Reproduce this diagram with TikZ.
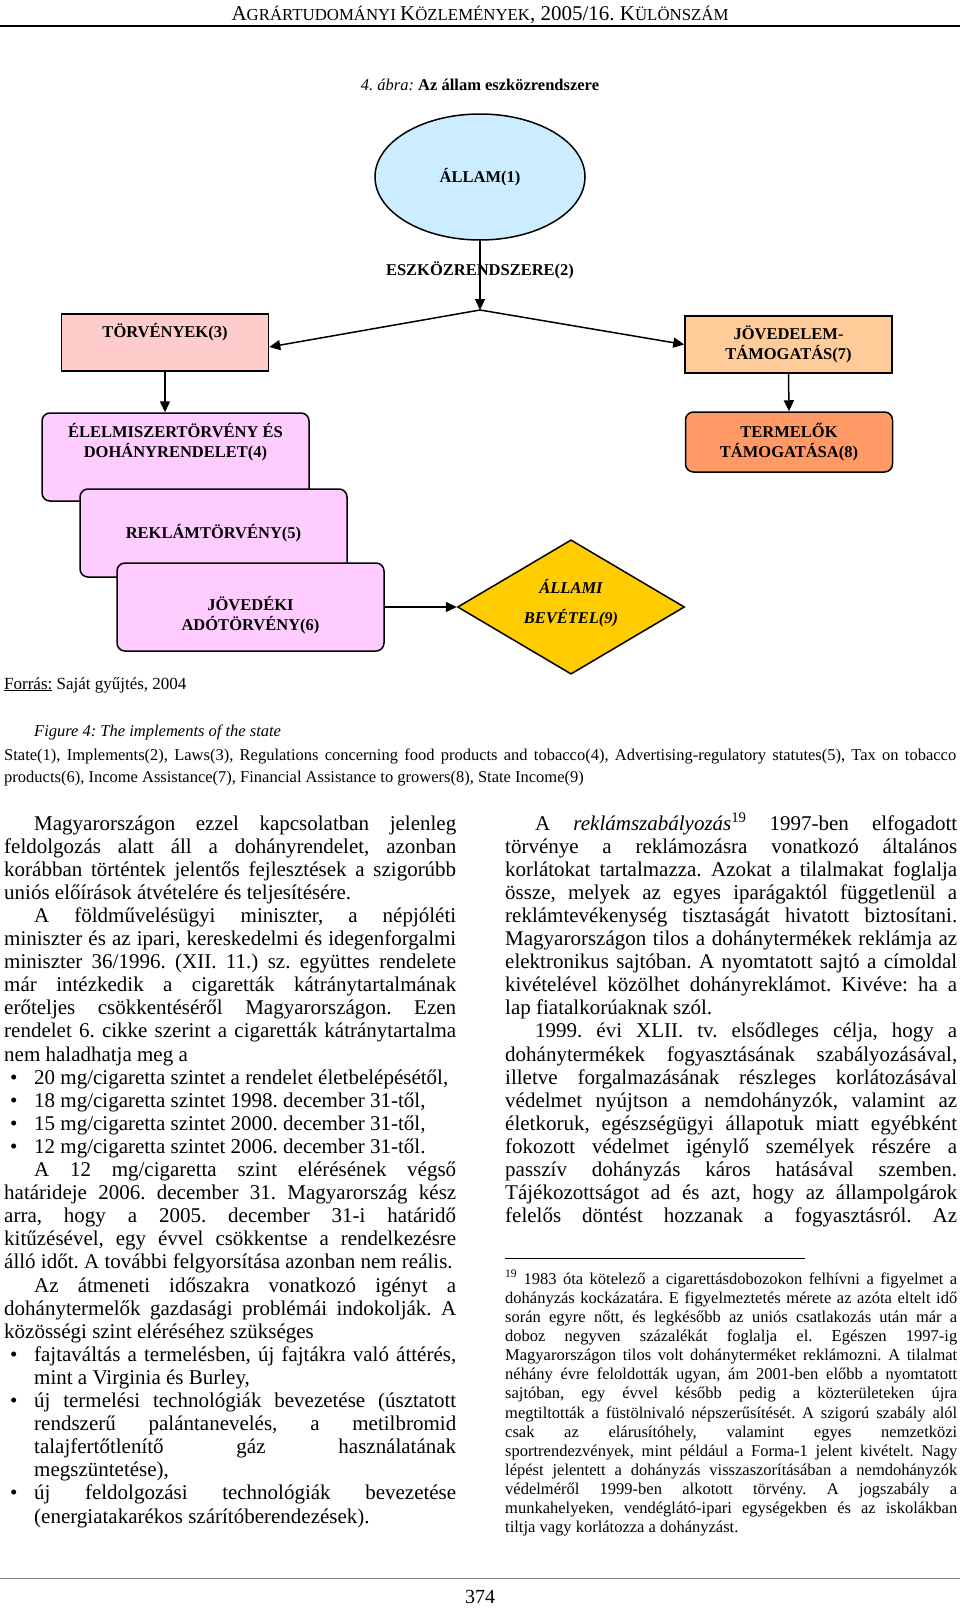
\documentclass[tikz,border=0pt]{standalone}
\usepackage{fontspec}
\setmainfont{Liberation Serif}
\usetikzlibrary{shapes.geometric,arrows.meta}

\definecolor{allamblue}{HTML}{CCECFF}
\definecolor{torvpink}{HTML}{FFCCCC}
\definecolor{jovorange}{HTML}{FFCC99}
\definecolor{termorange}{HTML}{FF9966}
\definecolor{lawpink}{HTML}{FFCCFF}
\definecolor{bevyellow}{HTML}{FFCC00}

\tikzset{
diagtext/.style={font=\fontsize{16.5}{19.5}\selectfont\bfseries, align=center},
sqbox/.style={draw, line width=1.5pt, diagtext, inner sep=0pt,
    minimum width=207pt, minimum height=57pt},
lawbox/.style={sqbox, rounded corners=8pt, fill=lawpink,
    minimum width=267pt, minimum height=88pt},
flow/.style={line width=1.5pt, -{Triangle[length=11pt,width=10pt]}}
}

% page text
\newcommand{\bodytxt}{\fontsize{21}{23.1}\selectfont}
\newcommand{\notetxt}{\fontsize{16.5}{19.15}\selectfont}
\newcommand{\captxt}{\fontsize{16.5}{22.2}\selectfont}
\newcommand{\hbig}{\fontsize{21}{21}\selectfont}
\newcommand{\hsml}{\fontsize{16.8}{21}\selectfont}
\newcommand{\jln}[1]{\hbox to\hsize{#1}}
\newcommand{\pln}[1]{\hbox to\hsize{#1\hfil}}
\newcommand{\ind}{\kern30pt}
\newcommand{\bul}{\hbox to30pt{\kern6pt\textbullet\hfil}}
\frenchspacing

\begin{document}
\begin{tikzpicture}[x=1pt, y=-1pt]
\useasboundingbox (0,0) rectangle (960,1609);
\fill[white] (0,0) rectangle (960,1609);

% header
\node[anchor=base, inner sep=0pt] (head) at (480,20)
  {\hbig A\hsml GRÁRTUDOMÁNYI \hbig K\hsml ÖZLEMÉNYEK\hbig, 2005/16. K\hsml ÜLÖNSZÁM};
\draw[line width=2pt] (0,26) -- (960,26);
\node[anchor=base, inner sep=0pt, font=\fontsize{16.5}{20}\selectfont] (title) at (480,90)
  {\textit{4. ábra:} \textbf{Az állam eszközrendszere}};

% diagram
\node[ellipse, draw, line width=1.5pt, fill=allamblue, diagtext,
  minimum width=210pt, minimum height=126pt] (allam) at (480,177) {ÁLLAM(1)};
\coordinate (junc) at (480,310);
\draw[flow] (allam.south) -- node[pos=0.43, diagtext] (eszk) {ESZKÖZRENDSZERE(2)} (junc);

\node[sqbox, fill=torvpink, text height=12pt, text depth=22pt] (torv) at (165,342.5) {TÖRVÉNYEK(3)};
\node[sqbox, fill=jovorange] (jov) at (788.5,344.5) {JÖVEDELEM-\\TÁMOGATÁS(7)};
\draw[flow] (junc) -- ([yshift=-4.5pt]torv.east);
\draw[flow] (junc) -- (jov.west);

\node[lawbox, text height=20pt, text depth=20pt] (law4) at (175.5,457) {ÉLELMISZERTÖRVÉNY ÉS\\DOHÁNYRENDELET(4)};
\node[lawbox] (law5) at (213.5,533) {REKLÁMTÖRVÉNY(5)};
\node[lawbox, text height=56pt, text depth=10pt] (law6) at (250.5,607) {JÖVEDÉKI\\ADÓTÖRVÉNY(6)};
\draw[flow] (torv.south) -- (torv.south |- law4.north);

\node[sqbox, rounded corners=8pt, fill=termorange, minimum height=60pt] (term) at (789,442) {TERMELŐK\\TÁMOGATÁSA(8)};
\draw[flow] (jov.south) -- (term.north);

\node[diamond, draw, line width=1.5pt, fill=bevyellow, inner sep=0pt,
  minimum width=227pt, minimum height=132pt, align=center, text height=36pt, text depth=4pt,
  font=\fontsize{16.5}{19.5}\selectfont\bfseries\itshape] (bev) at (571,607) {ÁLLAMI\\[10.5pt]BEVÉTEL(9)};
\draw[flow] (law6.east) -- (bev.west);

% source and caption
\node[anchor=base west, inner sep=0pt, font=\fontsize{17}{20}\selectfont] (forras) at (4,689)
  {\underline{Forrás:} Saját gyűjtés, 2004};
\node[anchor=base west, inner sep=0pt, font=\captxt\itshape] (figcap) at (34,736)
  {Figure 4: The implements of the state};
\node[anchor=base west, inner sep=0pt] (figkey) at (4,760) {\vtop{\hsize=952pt\captxt
\jln{State(1), Implements(2), Laws(3), Regulations concerning food products and tobacco(4), Advertising-regulatory statutes(5), Tax on tobacco}
\pln{products(6), Income Assistance(7), Financial Assistance to growers(8), State Income(9)}
}};

% left column
\node[anchor=base west, inner sep=0pt] (leftcol) at (4,830) {\vtop{\hsize=452pt\bodytxt
\jln{\ind Magyarországon ezzel kapcsolatban jelenleg}
\jln{feldolgozás alatt áll a dohányrendelet, azonban}
\jln{korábban történtek jelentős fejlesztések a szigorúbb}
\pln{uniós előírások átvételére és teljesítésére.}
\jln{\ind A földművelésügyi miniszter, a népjóléti}
\jln{miniszter és az ipari, kereskedelmi és idegenforgalmi}
\jln{miniszter 36/1996. (XII. 11.) sz. együttes rendelete}
\jln{már intézkedik a cigaretták kátránytartalmának}
\jln{erőteljes csökkentéséről Magyarországon. Ezen}
\jln{rendelet 6. cikke szerint a cigaretták kátránytartalma}
\pln{nem haladhatja meg a}
\pln{\bul 20 mg/cigaretta szintet a rendelet életbelépésétől,}
\pln{\bul 18 mg/cigaretta szintet 1998. december 31-től,}
\pln{\bul 15 mg/cigaretta szintet 2000. december 31-től,}
\pln{\bul 12 mg/cigaretta szintet 2006. december 31-től.}
\jln{\ind A 12 mg/cigaretta szint elérésének végső}
\jln{határideje 2006. december 31. Magyarország kész}
\jln{arra, hogy a 2005. december 31-i határidő}
\jln{kitűzésével, egy évvel csökkentse a rendelkezésre}
\pln{álló időt. A további felgyorsítása azonban nem reális.}
\jln{\ind Az átmeneti időszakra vonatkozó igényt a}
\jln{dohánytermelők gazdasági problémái indokolják. A}
\pln{közösségi szint eléréséhez szükséges}
\jln{\bul fajtaváltás a termelésben, új fajtákra való áttérés,}
\pln{\ind mint a Virginia és Burley,}
\jln{\bul új termelési technológiák bevezetése (úsztatott}
\jln{\ind rendszerű palántanevelés, a metilbromid}
\jln{\ind talajfertőtlenítő gáz használatának}
\pln{\ind megszüntetése),}
\jln{\bul új feldolgozási technológiák bevezetése}
\pln{\ind (energiatakarékos szárítóberendezések).}
}};

% right column
\node[anchor=base west, inner sep=0pt] (rightcol) at (505,830) {\vtop{\hsize=452pt\bodytxt
\jln{\ind A \textit{reklámszabályozás}\textsuperscript{19} 1997-ben elfogadott}
\jln{törvénye a reklámozásra vonatkozó általános}
\jln{korlátokat tartalmazza. Azokat a tilalmakat foglalja}
\jln{össze, melyek az egyes iparágaktól függetlenül a}
\jln{reklámtevékenység tisztaságát hivatott biztosítani.}
\jln{Magyarországon tilos a dohánytermékek reklámja az}
\jln{elektronikus sajtóban. A nyomtatott sajtó a címoldal}
\jln{kivételével közölhet dohányreklámot. Kivéve: ha a}
\pln{lap fiatalkorúaknak szól.}
\jln{\ind 1999. évi XLII. tv. elsődleges célja, hogy a}
\jln{dohánytermékek fogyasztásának szabályozásával,}
\jln{illetve forgalmazásának részleges korlátozásával}
\jln{védelmet nyújtson a nemdohányzók, valamint az}
\jln{életkoruk, egészségügyi állapotuk miatt egyébként}
\jln{fokozott védelmet igénylő személyek részére a}
\jln{passzív dohányzás káros hatásával szemben.}
\jln{Tájékozottságot ad és azt, hogy az állampolgárok}
\jln{felelős döntést hozzanak a fogyasztásról. Az}
}};

% footnote
\draw[line width=1pt] (505,1258) -- (805,1258);
\node[anchor=base west, inner sep=0pt] (note) at (505,1284) {\vtop{\hsize=452pt\notetxt
\jln{\textsuperscript{19} 1983 óta kötelező a cigarettásdobozokon felhívni a figyelmet a}
\jln{dohányzás kockázatára. E figyelmeztetés mérete az azóta eltelt idő}
\jln{során egyre nőtt, és legkésőbb az uniós csatlakozás után már a}
\jln{doboz negyven százalékát foglalja el. Egészen 1997-ig}
\jln{Magyarországon tilos volt dohányterméket reklámozni. A tilalmat}
\jln{néhány évre feloldották ugyan, ám 2001-ben előbb a nyomtatott}
\jln{sajtóban, egy évvel később pedig a közterületeken újra}
\jln{megtiltották a füstölnivaló népszerűsítését. A szigorú szabály alól}
\jln{csak az elárusítóhely, valamint egyes nemzetközi}
\jln{sportrendezvények, mint például a Forma-1 jelent kivételt. Nagy}
\jln{lépést jelentett a dohányzás visszaszorításában a nemdohányzók}
\jln{védelméről 1999-ben alkotott törvény. A jogszabály a}
\jln{munkahelyeken, vendéglátó-ipari egységekben és az iskolákban}
\pln{tiltja vagy korlátozza a dohányzást.}
}};

% footer
\draw[line width=1pt, gray] (0,1578) -- (960,1578);
\node[anchor=base, inner sep=0pt, font=\fontsize{20}{22}\selectfont] (pagenum) at (480,1603) {374};
\end{tikzpicture}
\end{document}
